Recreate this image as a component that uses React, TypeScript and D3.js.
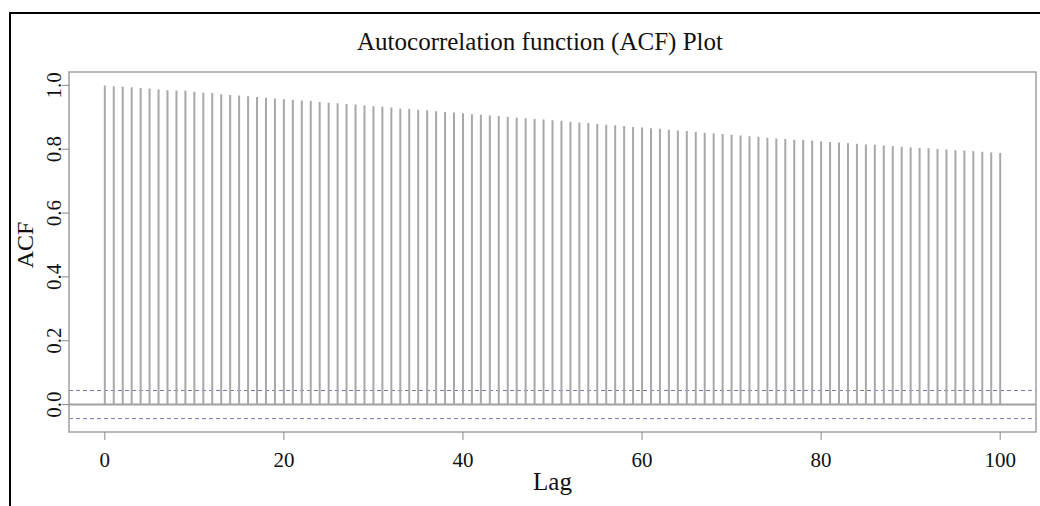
import React from 'react';
import * as d3 from 'd3';

// ACF values, lags 0..100
const acfValues: number[] = [
  1.000, 0.997, 0.996, 0.994, 0.992, 0.990, 0.987, 0.985, 0.984, 0.983,
  0.980, 0.977, 0.976, 0.972, 0.970, 0.968, 0.966, 0.964, 0.961, 0.959,
  0.957, 0.955, 0.953, 0.951, 0.948, 0.946, 0.944, 0.942, 0.940, 0.937,
  0.935, 0.933, 0.931, 0.928, 0.926, 0.924, 0.922, 0.919, 0.917, 0.915,
  0.913, 0.910, 0.908, 0.906, 0.904, 0.902, 0.899, 0.897, 0.895, 0.893,
  0.891, 0.889, 0.886, 0.884, 0.882, 0.879, 0.877, 0.875, 0.873, 0.870,
  0.868, 0.866, 0.864, 0.861, 0.859, 0.857, 0.854, 0.852, 0.850, 0.848,
  0.845, 0.843, 0.841, 0.839, 0.836, 0.834, 0.832, 0.830, 0.829, 0.827,
  0.825, 0.823, 0.821, 0.819, 0.817, 0.815, 0.814, 0.812, 0.810, 0.808,
  0.806, 0.804, 0.803, 0.801, 0.799, 0.797, 0.796, 0.794, 0.792, 0.790,
  0.788,
];
const confBound = 0.044;
const xTicks = [0, 20, 40, 60, 80, 100];
const yTicks = [0.0, 0.2, 0.4, 0.6, 0.8, 1.0];

const W = 1040;
const H = 506;
const box = { left: 69, right: 1036, top: 72, bottom: 432 };
const font = '"Liberation Serif", "Times New Roman", serif';

const App: React.FC = () => {
  const x = d3.scaleLinear().domain([-4, 104]).range([box.left, box.right]);
  const y = d3.scaleLinear().domain([-0.086, 1.042]).range([box.bottom, box.top]);

  return (
    <div style={{ position: 'fixed', left: 0, top: 0 }}>
      <svg width={W} height={H} style={{ display: 'block', background: '#fff' }}>
        {/* outer frame */}
        <path d={`M10,${H} L10,13 L${W},13`} fill="none" stroke="#000" strokeWidth={2} />

        <text x={540} y={50} textAnchor="middle" fontFamily={font} fontSize={25} fill="#111">
          Autocorrelation function (ACF) Plot
        </text>

        {/* confidence bounds */}
        {[confBound, -confBound].map((c, i) => (
          <line key={i} x1={box.left} x2={box.right} y1={y(c)} y2={y(c)}
            stroke="#7878b0" strokeWidth={1} strokeDasharray="4,3" />
        ))}

        {/* zero line */}
        <line x1={box.left} x2={box.right} y1={y(0)} y2={y(0)} stroke="#a0a0a0" strokeWidth={2} />

        {/* spikes */}
        {acfValues.map((v, lag) => (
          <line key={lag} x1={x(lag)} x2={x(lag)} y1={y(0)} y2={y(v)}
            stroke="#a8a8a8" strokeWidth={2} />
        ))}

        {/* plot box */}
        <rect x={box.left} y={box.top} width={box.right - box.left} height={box.bottom - box.top}
          fill="none" stroke="#a0a0a0" strokeWidth={1.5} />

        {/* x axis */}
        {xTicks.map(t => (
          <g key={t}>
            <line x1={x(t)} x2={x(t)} y1={box.bottom} y2={box.bottom + 8} stroke="#888" strokeWidth={1} />
            <text x={x(t)} y={467} textAnchor="middle" fontFamily={font} fontSize={21} fill="#111">{t}</text>
          </g>
        ))}
        <text x={(box.left + box.right) / 2} y={490} textAnchor="middle" fontFamily={font} fontSize={25} fill="#111">Lag</text>

        {/* y axis */}
        {yTicks.map(t => (
          <g key={t}>
            <line x1={box.left - 7} x2={box.left} y1={y(t)} y2={y(t)} stroke="#888" strokeWidth={1} />
            <text transform={`translate(61,${y(t)}) rotate(-90)`} textAnchor="middle"
              fontFamily={font} fontSize={21} fill="#111">{t.toFixed(1)}</text>
          </g>
        ))}
        <text transform={`translate(33,245) rotate(-90)`} textAnchor="middle"
          fontFamily={font} fontSize={24} fill="#111">ACF</text>
      </svg>
    </div>
  );
};

export default App;
